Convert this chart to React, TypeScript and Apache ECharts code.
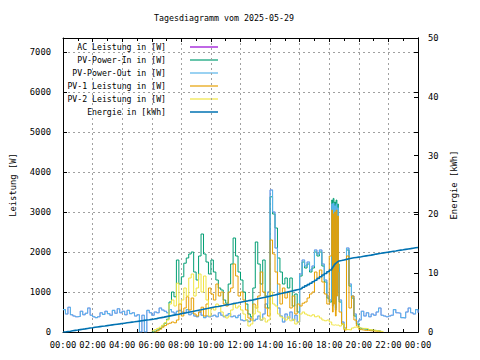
import React, { useEffect, useRef } from "react";
import * as echarts from "echarts";

// time of day in minutes (10-min samples, denser around 18:10-18:40)
const minutes = [
  0, 10, 20, 30, 40, 50,
  60, 70, 80, 90, 100, 110,
  120, 130, 140, 150, 160, 170,
  180, 190, 200, 210, 220, 230,
  240, 250, 260, 270, 280, 290,
  300, 310, 320, 330, 340, 350,
  360, 370, 380, 390, 400, 410,
  420, 430, 440, 450, 460, 470,
  480, 490, 500, 510, 520, 530,
  540, 550, 560, 570, 580, 590,
  600, 610, 620, 630, 640, 650,
  660, 670, 680, 690, 700, 710,
  720, 730, 740, 750, 760, 770,
  780, 790, 800, 810, 820, 830,
  840, 850, 860, 870, 880, 890,
  900, 910, 920, 930, 940, 950,
  960, 970, 980, 990, 1000, 1010,
  1020, 1030, 1040, 1050, 1060, 1070,
  1080,
  1090, 1093, 1096, 1099, 1102, 1105, 1108, 1111, 1114, 1117,
  1120, 1130,
  1140, 1150, 1160, 1170, 1180, 1190,
  1200, 1210, 1220, 1230, 1240, 1250,
  1260, 1270, 1280, 1290, 1300, 1310,
  1320, 1330, 1340, 1350, 1360, 1370,
  1380, 1390, 1400, 1410, 1420, 1430,
  1440,
];

const acLeistung = [
  560, 450, 620, 430, 400, 380,
  390, 520, 430, 470, 600, 420,
  380, 360, 380, 480, 440, 520,
  460, 420, 540, 470, 580, 480,
  520, 430, 540, 460, 480, 400,
  430, 0, 420, 0, 540, 480,
  420, 500, 480, 600, 550, 520,
  480, 560, 500, 470, 520, 540,
  500, 480, 560, 430, 470, 400,
  380, 500, 420, 360, 400, 380,
  400, 420, 380, 480, 420, 380,
  420, 460, 380, 400, 360, 420,
  300, 280, 300, 260, 350, 280,
  320, 400, 300, 450, 700, 1000,
  3550, 3000, 2100, 600, 400, 250,
  450, 350, 500, 300, 420, 250,
  1450, 1800, 1650, 1750, 1550, 1650,
  2050, 1950, 2050, 1700, 1300, 900,
  800,
  3200, 650, 3220, 850, 3150, 550, 3200, 1000, 3100, 1600,
  800, 250,
  100, 2100, 1200, 900, 450, 250,
  300, 520, 400, 480, 380, 450,
  420, 500, 600, 420, 400, 380,
  400, 420, 560, 480, 470, 360,
  350, 500, 600, 480, 450, 560,
  480,
];

const pvPowerIn = [
  null, null, null, null, null, null,
  null, null, null, null, null, null,
  null, null, null, null, null, null,
  null, null, null, null, null, null,
  null, null, null, null, null, null,
  null, null, null, null, null, null,
  0, 20, 50, 90, 150, 220,
  320, 750, 1000, 880, 1800, 1200,
  1380, 1720, 1850, 1950, 2000, 1500,
  1300, 1900, 2450, 1950, 1750, 1450,
  1800, 1500, 1300, 1100, 1050, 800,
  720, 1200, 1700, 2350, 1900, 1500,
  1300, 1000, 700, 450, 380, 1100,
  2250, 1700, 1200, 1800, 900, 600,
  3380, 2950, 2600, 1850, 1500, 1200,
  1350, 1100, 1350, 650, 950, 500,
  1400, 1750, 1600, 1700, 1500, 1600,
  2000, 1900, 2000, 1650, 1250, 850,
  750,
  3300, 700, 3340, 900, 3250, 600, 3300, 1100, 3200, 1700,
  750, 200,
  80, 2050, 1150, 850, 400, 200,
  100, 80, 70, 60, 50, 40,
  40, 30, 20, 0, null, null,
  null, null, null, null, null, null,
  null, null, null, null, null, null,
  null,
];

const pvPowerOut = [
  560, 450, 620, 430, 400, 380,
  390, 520, 430, 470, 600, 420,
  380, 360, 380, 480, 440, 520,
  460, 420, 540, 470, 580, 480,
  520, 430, 540, 460, 480, 400,
  430, 0, 420, 0, 540, 480,
  420, 500, 480, 600, 550, 520,
  480, 560, 500, 470, 520, 540,
  500, 480, 560, 430, 470, 400,
  380, 500, 420, 360, 400, 380,
  400, 420, 380, 480, 420, 380,
  420, 460, 380, 400, 360, 420,
  300, 280, 300, 260, 350, 280,
  320, 400, 300, 450, 700, 1000,
  3550, 3000, 2100, 600, 400, 250,
  450, 350, 500, 300, 420, 250,
  1450, 1800, 1650, 1750, 1550, 1650,
  2050, 1950, 2050, 1700, 1300, 900,
  800,
  3200, 650, 3220, 850, 3150, 550, 3200, 1000, 3100, 1600,
  800, 250,
  100, 2100, 1200, 900, 450, 250,
  300, 520, 400, 480, 380, 450,
  420, 500, 600, 420, 400, 380,
  400, 420, 560, 480, 470, 360,
  350, 500, 600, 480, 450, 560,
  480,
];

const pv1Leistung = [
  null, null, null, null, null, null,
  null, null, null, null, null, null,
  null, null, null, null, null, null,
  null, null, null, null, null, null,
  null, null, null, null, null, null,
  null, null, null, null, null, null,
  null, 0, 30, 70, 120, 160,
  200, 220, 250, 230, 300, 700,
  400, 600, 880, 550, 850, 450,
  400, 500, 620, 400, 700, 1100,
  950, 800, 1200, 900, 1000, 700,
  650, 1000, 1100, 1700, 1400, 900,
  1000, 800, 550, 350, 300, 700,
  600, 900, 1500, 1000, 600, 400,
  2300, 1950, 1500, 1200, 700, 1100,
  850, 1000, 600, 900, 450, 700,
  650, 720, 750, 850, 950, 1000,
  1500, 1350, 1550, 1250, 950, 700,
  1900,
  3050, 500, 2950, 700, 3000, 400, 3050, 900, 2900, 1500,
  500, 200,
  50, 1900, 600, 900, 300, 150,
  60, 50, 40, 40, 30, 30,
  20, 20, 10, 0, null, null,
  null, null, null, null, null, null,
  null, null, null, null, null, null,
  null,
];

const pv2Leistung = [
  null, null, null, null, null, null,
  null, null, null, null, null, null,
  null, null, null, null, null, null,
  null, null, null, null, null, null,
  null, null, null, null, null, null,
  null, null, null, null, null, null,
  30, 60, 90, 120, 170, 230,
  300, 700, 800, 650, 1220, 700,
  800, 1100, 900, 1350, 1450, 900,
  1100, 1450, 1000, 1400, 800, 400,
  600, 550, 700, 650, 500, 400,
  350, 400, 550, 700, 600, 650,
  550, 450, 300, 150, 200, 450,
  650, 500, 300, 350, 250, 300,
  1000, 700, 650, 450, 380, 350,
  300, 380, 280, 320, 200, 250,
  450, 500, 450, 420, 400, 430,
  380, 400, 350, 300, 280, 300,
  250,
  180, 170, 180, 170, 180, 170, 175, 170, 175, 170,
  150, 200,
  80, 60, 50, 100, 120, 110,
  100, 90, 90, 80, 60, 50,
  40, 30, 20, 10, 0, null,
  null, null, null, null, null, null,
  null, null, null, null, null, null,
  null,
];

const energieKWh = [
  0.0, 0.07, 0.13, 0.2, 0.27, 0.33,
  0.4, 0.47, 0.53, 0.6, 0.67, 0.73,
  0.8, 0.86, 0.92, 0.98, 1.03, 1.09,
  1.15, 1.21, 1.27, 1.33, 1.38, 1.44,
  1.5, 1.56, 1.62, 1.68, 1.73, 1.79,
  1.85, 1.91, 1.97, 2.03, 2.08, 2.14,
  2.2, 2.28, 2.37, 2.45, 2.53, 2.62,
  2.7, 2.78, 2.87, 2.95, 3.03, 3.12,
  3.2, 3.28, 3.37, 3.45, 3.53, 3.62,
  3.7, 3.78, 3.87, 3.95, 4.03, 4.12,
  4.2, 4.28, 4.35, 4.43, 4.5, 4.58,
  4.65, 4.73, 4.82, 4.9, 4.98, 5.07,
  5.15, 5.23, 5.3, 5.38, 5.45, 5.55,
  5.65, 5.74, 5.83, 5.92, 6.01, 6.1,
  6.2, 6.3, 6.4, 6.5, 6.6, 6.7,
  6.78, 6.88, 6.98, 7.08, 7.18, 7.28,
  7.4, 7.6, 7.85, 8.05, 8.3, 8.55,
  8.8, 9.1, 9.4, 9.7, 9.95, 10.25,
  10.55,
  10.8, 11.0, 11.2, 11.4, 11.55, 11.7, 11.82, 11.92, 12.0, 12.08,
  12.15, 12.25,
  12.35, 12.45, 12.55, 12.62, 12.68, 12.74,
  12.8, 12.87, 12.94, 13.01, 13.08, 13.16,
  13.25, 13.32, 13.38, 13.45, 13.52, 13.58,
  13.65, 13.72, 13.78, 13.85, 13.92, 13.98,
  14.05, 14.12, 14.18, 14.25, 14.32, 14.38,
  14.45,
];

const seriesNames = [
  "AC Leistung in [W]",
  "PV-Power-In in [W]",
  "PV-Power-Out in [W]",
  "PV-1 Leistung in [W]",
  "PV-2 Leistung in [W]",
  "Energie in [kWh]",
];
const seriesColors = ["#9400d3", "#009e73", "#56b4e9", "#e69f00", "#f0e442", "#0072b2"];
const lineWidths = [0.5, 1, 1.1, 1, 1, 1.6];

const FONT = "'DejaVu Sans Mono', monospace";

function fmtTime(v: number) {
  const h = Math.floor(v / 60) % 24;
  return (h < 10 ? "0" : "") + h + ":00";
}

export default function App() {
  const ref = useRef<HTMLDivElement>(null);
  useEffect(() => {
    const chart = echarts.init(ref.current!, null, { renderer: "svg" });
    const pairs = (arr: (number | null)[]) =>
      minutes
        .map((m, i) => [m, arr[i]])
        .filter((p) => p[1] !== null && p[1] !== undefined);
    const values = [acLeistung, pvPowerIn, pvPowerOut, pv1Leistung, pv2Leistung, energieKWh];

    const axisLineStyle = { show: true, onZero: false, lineStyle: { color: "#000", width: 1 } };
    const gridLine = { show: true, lineStyle: { color: "#a0a0a0", type: [2, 3] as any, width: 1 } };

    const legendGraphics: any[] = [];
    seriesNames.forEach((n, k) => {
      const y = 47 + 13 * k;
      legendGraphics.push({
        type: "text",
        x: 166,
        y,
        style: { text: n, align: "right", verticalAlign: "middle", font: `8.2px ${FONT}`, fill: "#000" },
      });
      legendGraphics.push({
        type: "line",
        shape: { x1: 190, y1: y, x2: 218, y2: y },
        style: { stroke: seriesColors[k], lineWidth: k === 5 ? 1.5 : 1.2 },
      });
    });
    legendGraphics.push({
      type: "text",
      x: 224,
      y: 18,
      style: {
        text: "Tagesdiagramm vom 2025-05-29",
        align: "center",
        verticalAlign: "middle",
        font: `8.3px ${FONT}`,
        fill: "#000",
      },
    });

    chart.setOption({
      animation: false,
      backgroundColor: "#ffffff",
      textStyle: { fontFamily: FONT },
      grid: { left: 58, right: 62, top: 38, bottom: 28, containLabel: false },
      graphic: legendGraphics,
      xAxis: [
        {
          type: "value",
          min: 0,
          max: 1440,
          interval: 120,
          position: "bottom",
          axisLine: axisLineStyle,
          axisTick: { show: true, inside: true, length: 4, lineStyle: { color: "#000" } },
          minorTick: { show: true, splitNumber: 2, length: 3, lineStyle: { color: "#000" } },
          axisLabel: {
            color: "#000",
            fontSize: 8.8,
            fontFamily: FONT,
            margin: 8,
            formatter: (v: number) => fmtTime(v),
          },
          splitLine: gridLine,
        },
        {
          type: "value",
          min: 0,
          max: 1440,
          interval: 120,
          position: "top",
          axisLine: axisLineStyle,
          axisTick: { show: true, inside: true, length: 4, lineStyle: { color: "#000" } },
          minorTick: { show: true, splitNumber: 2, length: 3, lineStyle: { color: "#000" } },
          axisLabel: { show: false },
          splitLine: { show: false },
        },
      ],
      yAxis: [
        {
          type: "value",
          min: 0,
          max: 7350,
          interval: 1000,
          position: "left",
          name: "Leistung [W]",
          nameLocation: "middle",
          nameGap: 46,
          nameRotate: 90,
          nameTextStyle: { color: "#000", fontSize: 8.8, fontFamily: FONT },
          axisLine: axisLineStyle,
          axisTick: { show: true, inside: true, length: 4, lineStyle: { color: "#000" } },
          axisLabel: {
            color: "#000",
            fontSize: 8.8,
            fontFamily: FONT,
            margin: 12,
            showMaxLabel: false,
            formatter: (v: number) => String(v),
          },
          splitLine: gridLine,
        },
        {
          type: "value",
          min: 0,
          max: 50,
          interval: 10,
          position: "right",
          name: "Energie [kWh]",
          nameLocation: "middle",
          nameGap: 28,
          nameRotate: 90,
          nameTextStyle: { color: "#000", fontSize: 8.8, fontFamily: FONT },
          axisLine: axisLineStyle,
          axisTick: { show: true, inside: true, length: 4, lineStyle: { color: "#000" } },
          axisLabel: {
            color: "#000",
            fontSize: 8.8,
            fontFamily: FONT,
            margin: 10,
            formatter: (v: number) => String(v),
          },
          splitLine: { show: false },
        },
        {
          type: "value",
          min: 0,
          max: 7350,
          interval: 1000,
          position: "right",
          axisLine: axisLineStyle,
          axisTick: { show: true, inside: true, length: 4, lineStyle: { color: "#000" } },
          axisLabel: { show: false },
          splitLine: { show: false },
        },
      ],
      series: seriesNames.map((n, k) => ({
        name: n,
        type: "line",
        step: "end",
        xAxisIndex: 0,
        yAxisIndex: k === 5 ? 1 : 0,
        data: pairs(values[k] as (number | null)[]),
        showSymbol: false,
        symbol: "none",
        silent: true,
        lineStyle: { color: seriesColors[k], width: lineWidths[k] },
        itemStyle: { color: seriesColors[k] },
      })),
    });
    return () => chart.dispose();
  }, []);
  return <div ref={ref} style={{ position: "absolute", left: 0, top: 0, width: 480, height: 360 }} />;
}
